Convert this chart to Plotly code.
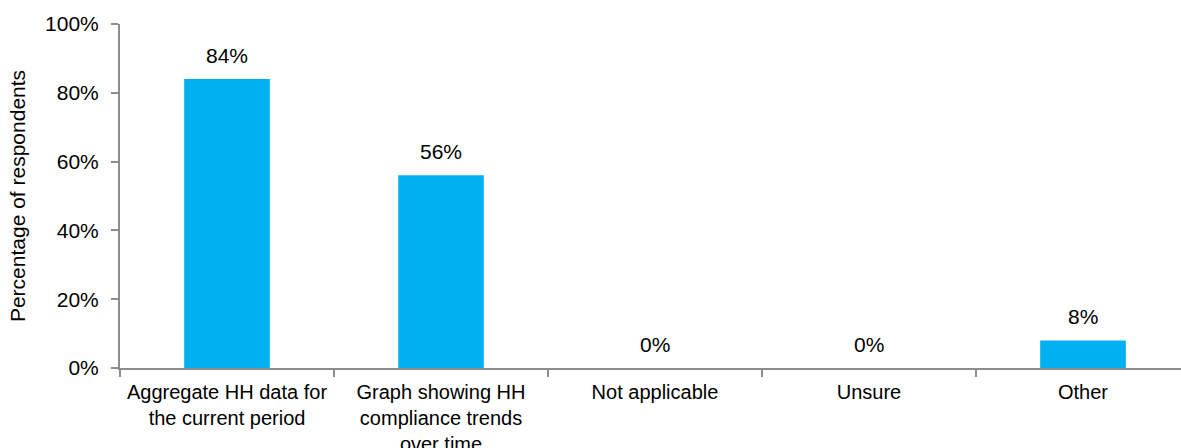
import plotly.graph_objects as go

# Survey results: share of respondents per reporting type
categories = [
    "Aggregate HH data for<br>the current period",
    "Graph showing HH<br>compliance trends<br>over time",
    "Not applicable",
    "Unsure",
    "Other",
]
values = [84, 56, 0, 0, 8]
value_labels = ["84%", "56%", "0%", "0%", "8%"]
y_ticks = [0, 20, 40, 60, 80, 100]
y_tick_labels = ["0%", "20%", "40%", "60%", "80%", "100%"]

BAR_COLOR = "#00B0F0"
AXIS_COLOR = "#8C8C8C"
FONT = "Liberation Sans, Arial, sans-serif"
FS = 21
FS_CAT = 20

fig = go.Figure(
    go.Bar(
        x=categories,
        y=values,
        marker=dict(color=BAR_COLOR, line=dict(width=0)),
        width=0.4,
        hoverinfo="skip",
    )
)

# value labels above each bar
for cat, val, lab in zip(categories, values, value_labels):
    fig.add_annotation(
        x=cat, y=val, text=lab, showarrow=False,
        xref="x", yref="y", yanchor="bottom", yshift=10,
        font=dict(family=FONT, size=FS, color="#000000"),
    )

fig.update_layout(
    width=1181,
    height=448,
    margin=dict(l=120, r=0, t=24, b=80),
    paper_bgcolor="white",
    plot_bgcolor="white",
    showlegend=False,
    font=dict(family=FONT, size=FS, color="#000000"),
    bargap=0.6,
)

fig.update_xaxes(
    type="category",
    range=[-0.5, 4.458],
    automargin=False,
    tickangle=0,
    showline=True, linecolor=AXIS_COLOR, linewidth=2,
    ticks="outside", tickson="boundaries", ticklen=7, tickwidth=2, tickcolor=AXIS_COLOR,
    showgrid=False, zeroline=False,
    tickfont=dict(family=FONT, size=FS_CAT, color="#000000"),
    ticklabelstandoff=5,
)

fig.update_yaxes(
    range=[0, 100],
    automargin=False,
    tickvals=y_ticks, ticktext=y_tick_labels,
    showline=True, linecolor=AXIS_COLOR, linewidth=2,
    ticks="outside", ticklen=7, tickwidth=2, tickcolor=AXIS_COLOR,
    showgrid=False, zeroline=False,
    tickfont=dict(family=FONT, size=FS, color="#000000"),
    ticklabelstandoff=8,
    title=dict(text="Percentage of respondents", font=dict(family=FONT, size=FS, color="#000000"), standoff=14),
)

fig.write_html("out.html")
